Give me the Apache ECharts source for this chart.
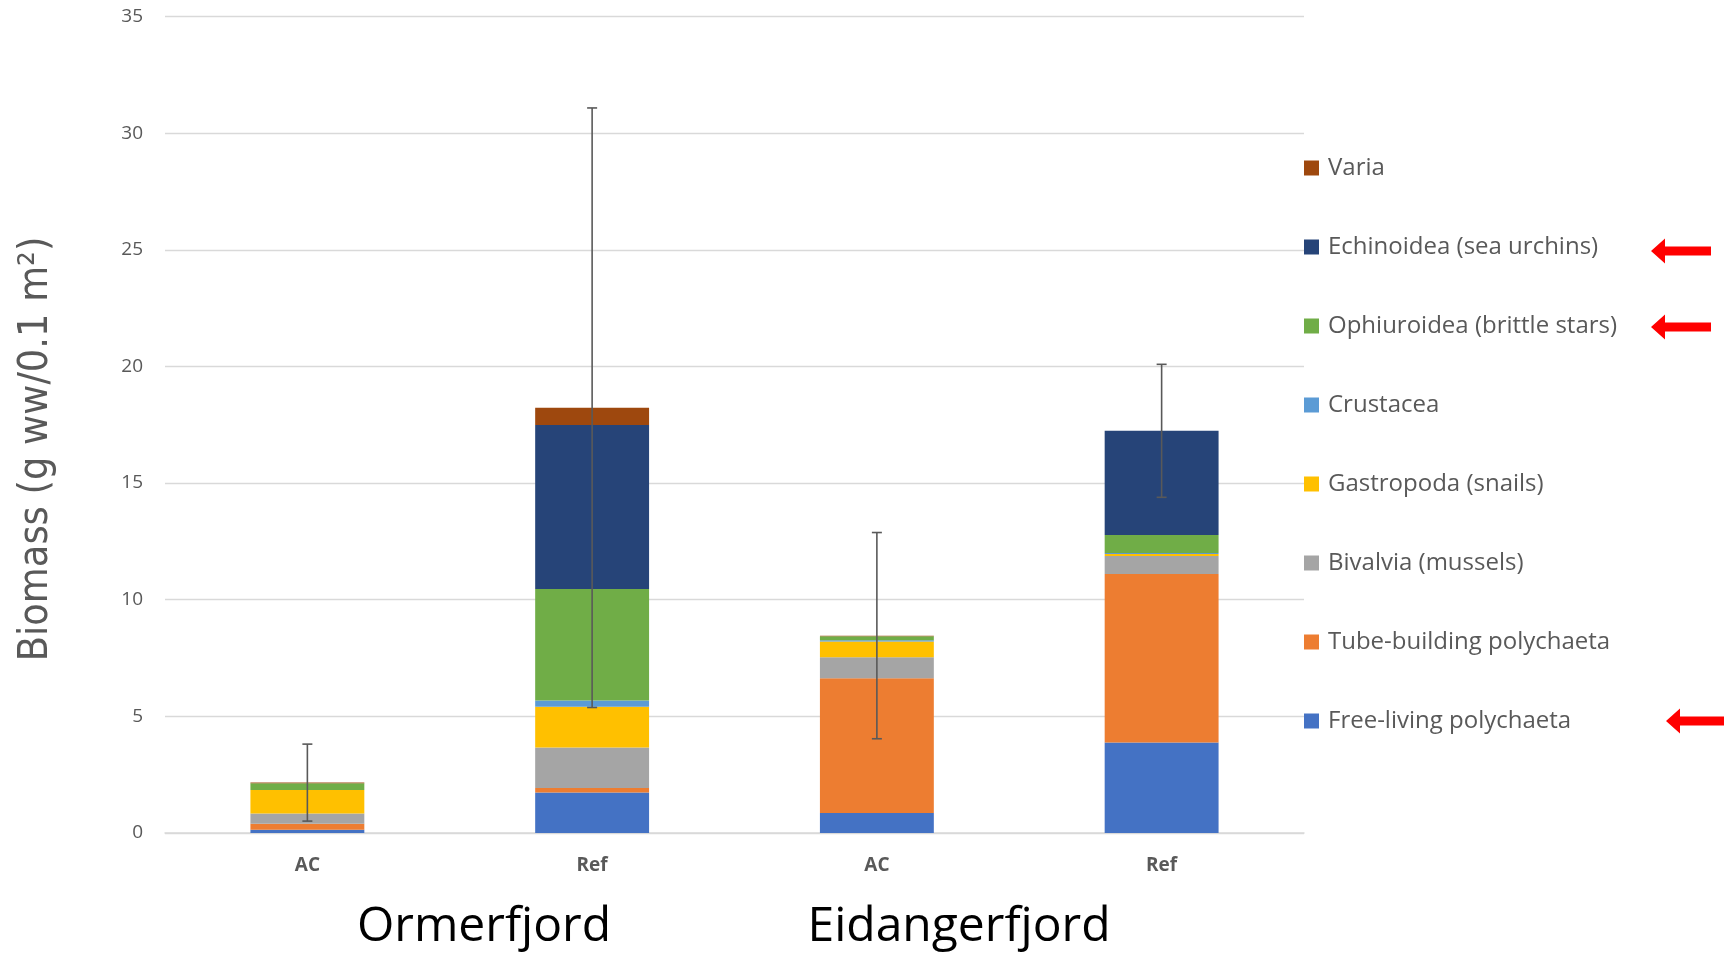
<!DOCTYPE html>
<html>
<head>
<meta charset="utf-8">
<script src="https://cdn.jsdelivr.net/npm/echarts@6/dist/echarts.min.js"></script>
<style>
  html, body { margin: 0; padding: 0; background: #ffffff; }
  #chart { width: 1724px; height: 958px; }
</style>
</head>
<body>
<div id="chart"></div>
<script>
// Stations: two fjords, each with an AC (capped) and a Ref site
const sites = ['AC', 'Ref', 'AC', 'Ref'];
const fjords = ['Ormerfjord', 'Eidangerfjord'];

// Biomass per taxon group (g ww / 0.1 m²), stacked from bottom to top
const freeLiving   = [0.14, 1.74, 0.86, 3.88];
const tubeBuilding = [0.26, 0.19, 5.77, 7.22];
const bivalvia     = [0.44, 1.74, 0.90, 0.77];
const gastropoda   = [1.00, 1.74, 0.68, 0.09];
const crustacea    = [0.00, 0.27, 0.05, 0.04];
const ophiuroidea  = [0.29, 4.78, 0.17, 0.77];
const echinoidea   = [0.00, 7.03, 0.00, 4.47];
const varia        = [0.03, 0.74, 0.03, 0.00];

// Standard deviation of total biomass per station
const totalSd = [1.65, 12.85, 4.42, 2.85];

const yTicks = { min: 0, max: 35, interval: 5 };

const seriesDefs = [
  { name: 'Free-living polychaeta', data: freeLiving,   color: '#4472C4' },
  { name: 'Tube-building polychaeta', data: tubeBuilding, color: '#ED7D31' },
  { name: 'Bivalvia (mussels)',     data: bivalvia,     color: '#A5A5A5' },
  { name: 'Gastropoda (snails)',    data: gastropoda,   color: '#FFC000' },
  { name: 'Crustacea',              data: crustacea,    color: '#5B9BD5' },
  { name: 'Ophiuroidea (brittle stars)', data: ophiuroidea, color: '#70AD47' },
  { name: 'Echinoidea (sea urchins)', data: echinoidea, color: '#264478' },
  { name: 'Varia',                  data: varia,        color: '#9E480E' }
];

const totals = sites.map((_, i) => seriesDefs.reduce((s, d) => s + d.data[i], 0));
const errorData = sites.map((_, i) => [i, totals[i], totals[i] - totalSd[i], totals[i] + totalSd[i]]);

const chart = echarts.init(document.getElementById('chart'), null, { renderer: 'canvas' });

const barSeries = seriesDefs.map(d => ({
  name: d.name,
  type: 'bar',
  stack: 'biomass',
  barWidth: '40%',
  itemStyle: { color: d.color },
  emphasis: { disabled: true },
  data: d.data
}));

const errorSeries = {
  type: 'custom',
  name: 'sd',
  z: 10,
  data: errorData,
  encode: { x: 0, y: [2, 3] },
  renderItem: function (params, api) {
    const x = api.value(0);
    const lo = api.coord([x, api.value(2)]);
    const hi = api.coord([x, api.value(3)]);
    const cap = 5;
    const style = { stroke: '#595959', lineWidth: 1.6 };
    return {
      type: 'group',
      children: [
        { type: 'line', shape: { x1: lo[0], y1: lo[1], x2: hi[0], y2: hi[1] }, style },
        { type: 'line', shape: { x1: lo[0] - cap, y1: lo[1], x2: lo[0] + cap, y2: lo[1] }, style },
        { type: 'line', shape: { x1: hi[0] - cap, y1: hi[1], x2: hi[0] + cap, y2: hi[1] }, style }
      ]
    };
  }
};

// Left-pointing red arrow drawn as one polygon
function arrow(xTip, yMid) {
  const len = 60, headLen = 14, headHalf = 12.5, shaftHalf = 4.5;
  return {
    type: 'polygon',
    shape: {
      points: [
        [xTip, yMid],
        [xTip + headLen, yMid - headHalf],
        [xTip + headLen, yMid - shaftHalf],
        [xTip + len, yMid - shaftHalf],
        [xTip + len, yMid + shaftHalf],
        [xTip + headLen, yMid + shaftHalf],
        [xTip + headLen, yMid + headHalf]
      ]
    },
    style: { fill: '#FF0000' }
  };
}

const option = {
  backgroundColor: '#ffffff',
  animation: false,
  grid: { left: 165, right: 420, top: 16.5, bottom: 125, containLabel: false },
  legend: {
    orient: 'vertical',
    left: 1299,
    top: 150,
    data: seriesDefs.map(d => d.name).reverse(),
    icon: 'rect',
    itemWidth: 15,
    itemHeight: 15,
    itemGap: 53,
    textStyle: { fontFamily: 'Open Sans', fontSize: 24, color: '#595959', lineHeight: 26, padding: [0, 0, 0, 4] },
    selectedMode: false
  },
  xAxis: {
    type: 'category',
    data: sites,
    axisLine: { show: true, lineStyle: { color: '#d9d9d9', width: 1.5 } },
    axisTick: { show: false },
    axisLabel: { fontFamily: 'Open Sans', fontWeight: 'bold', fontSize: 19, color: '#595959', margin: 23 }
  },
  yAxis: {
    type: 'value',
    min: yTicks.min,
    max: yTicks.max,
    interval: yTicks.interval,
    axisLine: { show: false },
    axisTick: { show: false },
    splitLine: { lineStyle: { color: '#d9d9d9', width: 1.3 } },
    axisLabel: { fontFamily: 'Open Sans', fontSize: 19, color: '#595959', margin: 22 }
  },
  graphic: [
    {
      type: 'text',
      x: 36, y: 449,
      rotation: Math.PI / 2,
      style: {
        text: 'Biomass (g ww/0.1 m²)',
        font: '41px "Liberation Sans Narrow", "DejaVu Sans Condensed", sans-serif',
        fill: '#595959',
        align: 'center',
        verticalAlign: 'middle'
      }
    },
    {
      type: 'text', x: 484, y: 927,
      style: { text: fjords[0], font: '48px "Open Sans", sans-serif', fill: '#000000', align: 'center', verticalAlign: 'middle' }
    },
    {
      type: 'text', x: 959, y: 927,
      style: { text: fjords[1], font: '48px "Open Sans", sans-serif', fill: '#000000', align: 'center', verticalAlign: 'middle' }
    },
    arrow(1651, 251),
    arrow(1651, 327),
    arrow(1666, 721)
  ],
  series: barSeries.concat([errorSeries])
};

chart.setOption(option);
</script>
</body>
</html>
